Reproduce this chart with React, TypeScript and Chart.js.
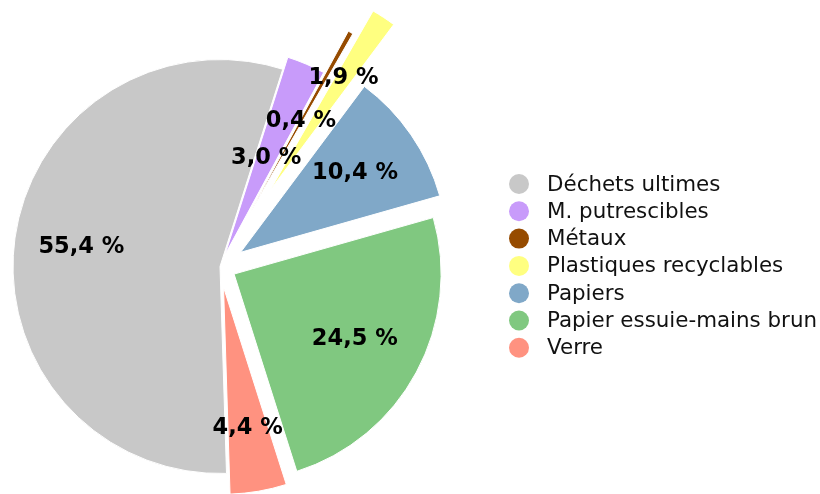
import React, { useEffect, useRef } from "react";
import { Chart, registerables } from "chart.js";

Chart.register(...registerables);

const categories: string[] = [
  "Déchets ultimes",
  "M. putrescibles",
  "Métaux",
  "Plastiques recyclables",
  "Papiers",
  "Papier essuie-mains brun",
  "Verre",
];

const shares: number[] = [55.4, 3.0, 0.4, 1.9, 10.4, 24.5, 4.4];

const colors: string[] = [
  "#c8c8c8",
  "#c89bfa",
  "#964b00",
  "#ffff80",
  "#80a8c8",
  "#80c880",
  "#ff9280",
];

// pull-out distance of each slice (px), label radius for each slice (px)
const pulls: number[] = [0, 13, 61, 91, 25, 16, 21];
const labelRadii: number[] = [140, 105, 105, 134, 139, 137, 143];

const fmt = (v: number) => v.toFixed(1).replace(".", ",") + " %";

const pullPlugin = {
  id: "pullSlices",
  beforeDatasetDraw(chart: any, args: any) {
    const ctx = chart.ctx;
    const meta = chart.getDatasetMeta(args.index);
    meta.data.forEach((arc: any, i: number) => {
      const mid = (arc.startAngle + arc.endAngle) / 2;
      const d = pulls[i] || 0;
      ctx.save();
      ctx.translate(Math.cos(mid) * d, Math.sin(mid) * d);
      arc.draw(ctx);
      ctx.restore();
    });
    return false;
  },
};

const labelPlugin = {
  id: "sliceLabels",
  afterDatasetsDraw(chart: any) {
    const ctx = chart.ctx;
    const meta = chart.getDatasetMeta(0);
    const values = chart.data.datasets[0].data as number[];
    ctx.save();
    ctx.font = "bold 22.5px 'DejaVu Sans'";
    ctx.fillStyle = "#000";
    ctx.textAlign = "center";
    ctx.textBaseline = "middle";
    meta.data.forEach((arc: any, i: number) => {
      const mid = (arc.startAngle + arc.endAngle) / 2;
      const r = labelRadii[i] + (pulls[i] || 0);
      ctx.fillText(fmt(values[i]), arc.x + Math.cos(mid) * r, arc.y + Math.sin(mid) * r);
    });
    ctx.restore();
  },
};

const legendPlugin = {
  id: "sideLegend",
  afterDraw(chart: any) {
    const ctx = chart.ctx;
    const labels = chart.data.labels as string[];
    const bg = chart.data.datasets[0].backgroundColor as string[];
    ctx.save();
    ctx.font = "21.4px 'DejaVu Sans'";
    ctx.textAlign = "left";
    ctx.textBaseline = "middle";
    labels.forEach((lab, i) => {
      const y = 184 + i * 27.3;
      ctx.beginPath();
      ctx.arc(519, y, 10, 0, Math.PI * 2);
      ctx.fillStyle = bg[i];
      ctx.fill();
      ctx.fillStyle = "#111";
      ctx.fillText(lab, 547, y + 1);
    });
    ctx.restore();
  },
};

export default function App() {
  const ref = useRef<HTMLCanvasElement | null>(null);
  useEffect(() => {
    if (!ref.current) return;
    const chart = new Chart(ref.current, {
      type: "pie",
      data: {
        labels: categories,
        datasets: [
          {
            data: shares,
            backgroundColor: colors,
            borderColor: "#ffffff",
            borderWidth: 1,
          },
        ],
      },
      options: {
        responsive: false,
        animation: false,
        rotation: 178.2,
        radius: 207,
        layout: { padding: { left: 0, right: 380, top: 39, bottom: 0 } },
        plugins: {
          legend: { display: false },
          tooltip: { enabled: false },
        },
      },
      plugins: [pullPlugin, labelPlugin, legendPlugin],
    } as any);
    return () => chart.destroy();
  }, []);
  return (
    <div style={{ position: "fixed", left: 0, top: 0, width: 820, height: 494, background: "#fff" }}>
      <canvas ref={ref} width={820} height={494} style={{ display: "block" }} />
    </div>
  );
}
